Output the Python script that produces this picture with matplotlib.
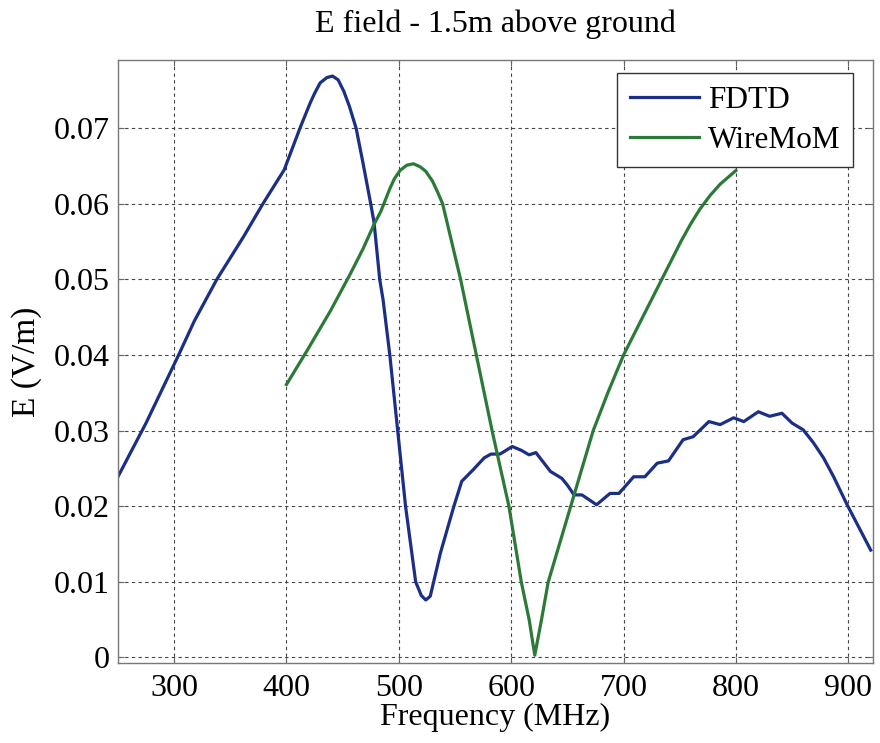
import matplotlib
matplotlib.use("Agg")
import matplotlib.pyplot as plt

# Frequency sweep of the electric field 1.5 m above ground
fdtd_freq = [250, 275, 304, 318, 338, 362, 379, 398, 412, 421, 425, 430, 436,
             441, 446, 451, 456, 462, 468, 475, 478, 483, 486, 492, 499, 506, 515,
             520, 524, 528, 531, 537, 549, 556, 566, 576, 582, 590, 601, 609, 616,
             622, 635, 645, 650, 656, 663, 676, 688, 696, 709, 719, 730, 740, 753,
             762, 776, 786, 798, 807, 820, 830, 841, 850, 860, 869, 878, 887, 899,
             913, 920]
fdtd_e = [0.0239, 0.0310, 0.0400, 0.0445, 0.0500, 0.0557, 0.0600, 0.0645,
          0.0700, 0.0733, 0.0746, 0.0760, 0.0767, 0.0769, 0.0764, 0.0749, 0.0729,
          0.0700, 0.0655, 0.0600, 0.0575, 0.0500, 0.0473, 0.0400, 0.0300, 0.0200,
          0.0100, 0.0082, 0.0076, 0.0081, 0.0100, 0.0138, 0.0200, 0.0233, 0.0248,
          0.0264, 0.0269, 0.0269, 0.0279, 0.0274, 0.0268, 0.0271, 0.0246, 0.0237,
          0.0228, 0.0215, 0.0215, 0.0202, 0.0217, 0.0217, 0.0239, 0.0239, 0.0257,
          0.0260, 0.0288, 0.0292, 0.0312, 0.0308, 0.0317, 0.0312, 0.0325, 0.0319,
          0.0323, 0.0310, 0.0301, 0.0284, 0.0264, 0.0239, 0.0202, 0.0162, 0.0142]

mom_freq = [400, 418, 439, 456, 468, 478, 484, 492, 496, 501, 507, 513, 519, 524,
            530, 535, 539, 555, 569, 583, 598, 609, 616, 621, 627, 633, 653, 673,
            686, 700, 717, 734, 751, 760, 768, 777, 786, 800]
mom_e = [0.0361, 0.0405, 0.0458, 0.0505, 0.0540, 0.0573, 0.0590, 0.0620, 0.0633,
         0.0644, 0.0651, 0.0653, 0.0649, 0.0643, 0.0630, 0.0614, 0.0600, 0.0500,
         0.0400, 0.0300, 0.0200, 0.0100, 0.0050, 0.0003, 0.0050, 0.0100, 0.0200,
         0.0300, 0.0350, 0.0400, 0.0450, 0.0500, 0.0550, 0.0574, 0.0593, 0.0611,
         0.0626, 0.0644]

x_ticks = [300, 400, 500, 600, 700, 800, 900]
y_ticks = [0, 0.01, 0.02, 0.03, 0.04, 0.05, 0.06, 0.07]
y_tick_labels = ["0", "0.01", "0.02", "0.03", "0.04", "0.05", "0.06", "0.07"]

plt.rcParams["font.family"] = ["Liberation Serif", "DejaVu Serif"]

fig = plt.figure(figsize=(8.8, 7.43), dpi=100)
ax = fig.add_axes([0.134, 0.108, 0.858, 0.811])

ax.plot(fdtd_freq, fdtd_e, color="#1b2f86", lw=2.3, label="FDTD")
ax.plot(mom_freq, mom_e, color="#2c7a38", lw=2.3, label="WireMoM")

ax.set_xlim(250, 922)
ax.set_ylim(-0.0007, 0.079)
ax.set_xticks(x_ticks)
ax.set_xticklabels([str(t) for t in x_ticks])
ax.set_yticks(y_ticks)
ax.set_yticklabels(y_tick_labels)

ax.grid(True, color="#444444", linestyle=(0, (3, 3)), linewidth=0.8)
ax.tick_params(direction="in", length=4, width=0.8, colors="#666666",
               labelcolor="black", labelsize=23, top=True, right=True)
ax.tick_params(axis="x", pad=8)
ax.tick_params(axis="y", pad=6)
for s in ax.spines.values():
    s.set_color("#777777")
    s.set_linewidth(1.0)

ax.set_title("E field - 1.5m above ground", fontsize=23, pad=20)
ax.set_xlabel("Frequency (MHz)", fontsize=23, labelpad=0)
ax.set_ylabel("E (V/m)", fontsize=24, labelpad=8)

leg = ax.legend(loc="upper right", bbox_to_anchor=(0.9735, 0.978), fontsize=22.5,
                frameon=True, fancybox=False, edgecolor="#333333", framealpha=1,
                handlelength=2.2, handletextpad=0.3, borderpad=0.4,
                labelspacing=0.35, borderaxespad=0)
leg.get_frame().set_linewidth(1.0)

fig.savefig("out.png", dpi=100)
